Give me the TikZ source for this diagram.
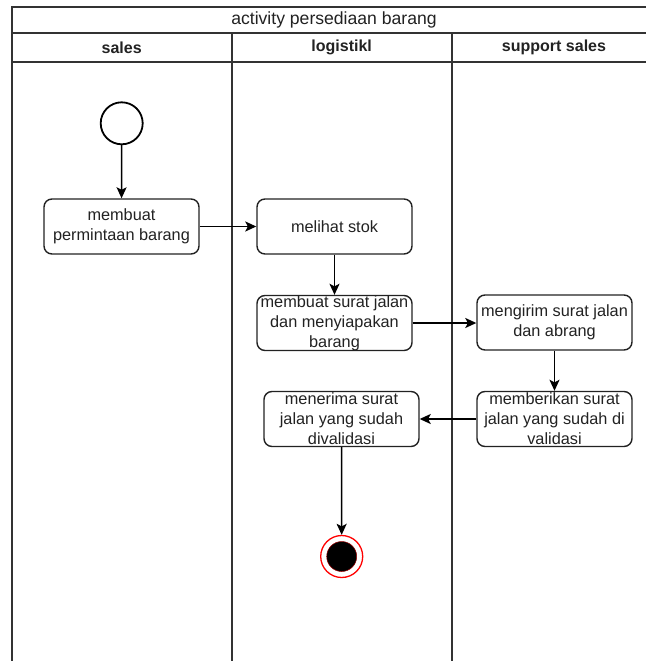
\documentclass[tikz,border=0pt]{standalone}
\usepackage{fontspec}
\setmainfont{Liberation Sans}
\usetikzlibrary{arrows.meta}
\definecolor{ink}{HTML}{222222}
\definecolor{frameline}{HTML}{333333}
\definecolor{endred}{HTML}{FF0000}
\begin{document}
\begin{tikzpicture}[x=1pt,y=-1pt,
  lane/.style={draw=frameline,line width=1.7pt},
  head/.style={font=\fontsize{16}{19}\selectfont\bfseries,text=ink},
  titletext/.style={font=\fontsize{17.6}{20}\selectfont,text=ink},
  act/.style={draw=ink,line width=1.4pt,rounded corners=8pt,fill=white,
    minimum width=155pt,minimum height=55pt,inner sep=0pt},
  acttext/.style={font=\fontsize{16.3}{20}\selectfont,text=ink,align=center,inner sep=0pt},
  flow/.style={draw=black,line width=1.5pt,-{Stealth[length=11pt,width=10pt,inset=2.5pt]}},
  startstate/.style={circle,draw=black,line width=1.8pt,fill=white,minimum size=42pt,inner sep=0pt},
  endring/.style={circle,draw=endred,line width=1.3pt,fill=white,minimum size=42pt,inner sep=0pt},
  enddot/.style={circle,fill=black,draw=endred!60!black,line width=0.5pt,minimum size=30pt,inner sep=0pt}]

\useasboundingbox (0,0) rectangle (646,661);
\fill[white] (0,0) rectangle (646,661);

% swimlane frame
\draw[lane] (11.7,661) -- (11.7,6.7) -- (646,6.7);
\draw[lane] (11.7,33.3) -- (646,33.3);
\draw[lane] (11.7,61.7) -- (646,61.7);
\draw[lane] (231.7,33.3) -- (231.7,661);
\draw[lane] (451.7,33.3) -- (451.7,661);

\node[titletext] (title) at (334,20) {activity persediaan barang};
\node[head] (hsales) at (121.7,47.5) {sales};
\node[head] (hlog) at (341.7,47.5) {logistikl};
\node[head] (hsupport) at (554,47.5) {support sales};

% states
\node[startstate] (start) at (121.7,123.3) {};
\node[endring] (end) at (341.7,556.5) {};
\node[enddot] (enddot) at (end.center) {};

% actions
\node[act,label={[acttext]center:membuat\\permintaan barang}] (b1) at (121.5,226.5) {};
\node[act,label={[acttext]center:melihat stok}] (b2) at (334.5,226.5) {};
\node[act,label={[acttext]center:membuat surat jalan\\dan menyiapakan\\barang}] (b3) at (334.5,323) {};
\node[act,label={[acttext]center:mengirim surat jalan\\dan abrang}] (b4) at (554.5,322.5) {};
\node[act,label={[acttext]center:memberikan surat\\jalan yang sudah di\\validasi}] (b5) at (554.5,419) {};
\node[act,label={[acttext]center:menerima surat\\jalan yang sudah\\divalidasi}] (b6) at (341.5,419) {};

% control flow
\draw[flow] (start) -- (b1);
\draw[flow] (b1) -- (b2);
\draw[flow] (b2) -- (b3);
\draw[flow] (b3.east) -- (b4.west |- b3.east);
\draw[flow] (b4) -- (b5);
\draw[flow] (b5.west) -- (b6.east);
\draw[flow] (b6) -- (end);
\end{tikzpicture}
\end{document}
